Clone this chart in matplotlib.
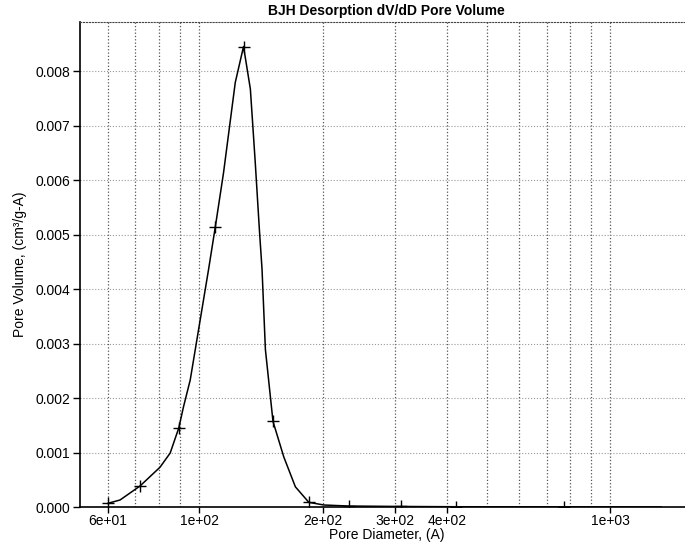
import matplotlib
matplotlib.use("Agg")
import matplotlib.pyplot as plt
from matplotlib.ticker import FixedLocator, NullFormatter

plt.rcParams["font.family"] = ["Liberation Sans", "DejaVu Sans"]

# curve (pore diameter in A, dV/dD in cm3/g-A)
curve_diam = [60.0, 64.2, 71.8, 80.3, 85.0, 89.2, 91.6, 95.1, 100.6, 105.4, 109.4,
              114.6, 122.4, 128.2, 133.2, 136.9, 140.1, 142.2, 144.9, 151.2, 160.6,
              171.4, 184.8, 201.0, 231.0, 309.0, 421.0, 773.0, 1330.0]
curve_vol = [0.000068, 0.000129, 0.000386, 0.00073, 0.00099, 0.00145, 0.00184, 0.00233,
             0.00344, 0.00436, 0.00513, 0.00613, 0.00779, 0.00845, 0.00767, 0.00632,
             0.00509, 0.00436, 0.00289, 0.00157, 0.00092, 0.00037, 0.000086, 0.000037,
             0.000018, 0.00001, 0.000005, 0.000003, 0.000001]

# measured points (the + markers)
point_diam = [60.0, 71.8, 89.2, 109.4, 128.2, 151.2, 184.8, 231.0, 309.0, 421.0, 773.0]
point_vol = [0.000068, 0.000386, 0.00145, 0.00513, 0.00845, 0.00157, 0.000086,
             0.000018, 0.00001, 0.000005, 0.000003]

major_ticks = [60, 100, 200, 300, 400, 1000]
major_labels = ["6e+01", "1e+02", "2e+02", "3e+02", "4e+02", "1e+03"]
minor_ticks = [70, 80, 90, 500, 600, 700, 800, 900]
y_ticks = [0.000, 0.001, 0.002, 0.003, 0.004, 0.005, 0.006, 0.007, 0.008]

fig = plt.figure(figsize=(6.85, 5.47), dpi=100)
ax = fig.add_axes([0.1168, 0.0731, 0.895, 0.8867])

ax.plot(curve_diam, curve_vol, color="black", linewidth=1.1)
ax.plot(point_diam, point_vol, linestyle="none", marker="+", markersize=8,
        markeredgewidth=1.0, color="black")

ax.set_xscale("log")
ax.set_xlim(51.3, 1590)
ax.set_ylim(0, 0.0089)

ax.xaxis.set_major_locator(FixedLocator(major_ticks))
ax.set_xticklabels(major_labels)
ax.xaxis.set_minor_locator(FixedLocator(minor_ticks))
ax.xaxis.set_minor_formatter(NullFormatter())
ax.set_yticks(y_ticks)
ax.set_yticklabels([f"{v:.3f}" for v in y_ticks])

ax.tick_params(axis="y", which="major", direction="out", length=5, width=1,
               labelsize=10, pad=2)
ax.tick_params(axis="x", which="major", direction="out", length=4, width=1,
               labelsize=10, pad=1)
ax.tick_params(axis="x", which="minor", length=0)

ax.grid(True, axis="x", which="both", linestyle=":", color="#555555", linewidth=0.9)
ax.grid(True, axis="y", which="major", linestyle=":", color="#9a9a9a", linewidth=0.8)

ax.spines["right"].set_visible(False)
ax.spines["top"].set_linestyle(":")
ax.spines["top"].set_color("#444444")
ax.spines["left"].set_linewidth(1.2)
ax.spines["bottom"].set_linewidth(1.2)

ax.set_title("BJH Desorption dV/dD Pore Volume", fontsize=10, fontweight="bold", pad=5)
ax.set_xlabel("Pore Diameter, (A)", fontsize=10, labelpad=0)
ax.set_ylabel("Pore Volume, (cm³/g-A)", fontsize=10, labelpad=6)

fig.savefig("out.png", dpi=100)
